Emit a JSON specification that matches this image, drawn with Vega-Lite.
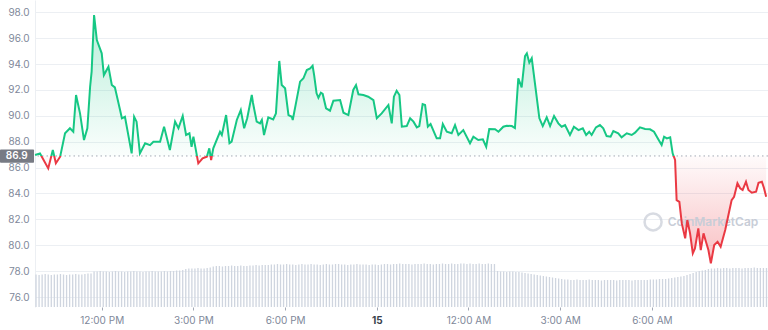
{
  "$schema": "https://vega.github.io/schema/vega-lite/v6.json",
  "autosize": "none",
  "width": 733,
  "height": 307,
  "padding": {"left": 35, "top": 0, "right": 0, "bottom": 23},
  "background": "#ffffff",
  "config": {
    "view": {"stroke": null},
    "font": "Inter",
    "axis": {"labelOverlap": false, "labelBound": false},
    "axisX": {"labelFlush": false, "grid": false, "domain": false, "title": null},
    "axisY": {"title": null}
  },
  "datasets": {
    "price": [
      {"t":9.82,"p":86.97},{"t":9.98,"p":87.10},{"t":10.04,"p":86.84},{"t":10.25,"p":85.94},{"t":10.40,"p":87.36},
      {"t":10.50,"p":86.33},{"t":10.64,"p":86.84},{"t":10.80,"p":88.65},{"t":10.96,"p":89.04},{"t":11.07,"p":88.77},
      {"t":11.16,"p":91.61},{"t":11.29,"p":90.19},{"t":11.42,"p":88.13},{"t":11.53,"p":89.04},{"t":11.62,"p":92.25},
      {"t":11.67,"p":93.41},{"t":11.75,"p":97.79},{"t":11.84,"p":95.86},{"t":12.00,"p":94.83},{"t":12.07,"p":93.15},
      {"t":12.22,"p":93.80},{"t":12.33,"p":92.38},{"t":12.43,"p":92.20},{"t":12.60,"p":90.45},{"t":12.66,"p":89.81},
      {"t":12.76,"p":89.93},{"t":12.98,"p":87.10},{"t":13.06,"p":89.93},{"t":13.14,"p":89.55},{"t":13.25,"p":87.10},
      {"t":13.42,"p":87.88},{"t":13.58,"p":87.74},{"t":13.69,"p":88.00},{"t":13.91,"p":88.00},{"t":14.04,"p":89.16},
      {"t":14.23,"p":87.36},{"t":14.40,"p":89.55},{"t":14.51,"p":89.04},{"t":14.65,"p":89.99},{"t":14.76,"p":88.52},
      {"t":14.87,"p":88.65},{"t":14.94,"p":87.61},{"t":15.00,"p":88.39},{"t":15.16,"p":86.33},{"t":15.30,"p":86.72},
      {"t":15.44,"p":86.84},{"t":15.52,"p":87.49},{"t":15.58,"p":86.59},{"t":15.65,"p":87.49},{"t":15.87,"p":88.77},
      {"t":15.93,"p":88.52},{"t":16.07,"p":90.06},{"t":16.18,"p":87.88},{"t":16.25,"p":88.00},{"t":16.42,"p":89.68},
      {"t":16.55,"p":90.45},{"t":16.66,"p":89.04},{"t":16.76,"p":89.81},{"t":16.91,"p":91.61},{"t":16.95,"p":90.99},
      {"t":17.07,"p":89.55},{"t":17.18,"p":89.42},{"t":17.24,"p":89.68},{"t":17.31,"p":88.52},{"t":17.45,"p":89.89},
      {"t":17.61,"p":89.73},{"t":17.70,"p":90.19},{"t":17.81,"p":94.24},{"t":17.89,"p":92.38},{"t":18.00,"p":92.13},
      {"t":18.11,"p":90.06},{"t":18.22,"p":89.93},{"t":18.25,"p":89.68},{"t":18.49,"p":92.64},{"t":18.60,"p":92.90},
      {"t":18.71,"p":93.54},{"t":18.82,"p":93.67},{"t":18.90,"p":93.87},{"t":18.95,"p":93.15},{"t":19.03,"p":91.74},
      {"t":19.09,"p":91.40},{"t":19.17,"p":91.79},{"t":19.23,"p":91.69},{"t":19.34,"p":90.58},{"t":19.47,"p":90.40},
      {"t":19.58,"p":91.17},{"t":19.80,"p":91.22},{"t":19.91,"p":90.24},{"t":20.07,"p":90.06},{"t":20.23,"p":92.00},
      {"t":20.32,"p":92.38},{"t":20.40,"p":91.66},{"t":20.56,"p":91.61},{"t":20.72,"p":91.48},{"t":20.89,"p":91.22},
      {"t":21.00,"p":89.81},{"t":21.16,"p":90.19},{"t":21.38,"p":90.84},{"t":21.49,"p":89.42},{"t":21.56,"p":91.48},
      {"t":21.65,"p":91.94},{"t":21.74,"p":91.61},{"t":21.82,"p":89.16},{"t":21.98,"p":89.21},{"t":22.09,"p":89.81},
      {"t":22.20,"p":89.55},{"t":22.31,"p":89.11},{"t":22.39,"p":89.21},{"t":22.50,"p":90.91},{"t":22.58,"p":90.84},
      {"t":22.67,"p":89.16},{"t":22.76,"p":89.37},{"t":22.96,"p":88.26},{"t":23.07,"p":88.26},{"t":23.16,"p":89.37},
      {"t":23.29,"p":88.77},{"t":23.45,"p":88.65},{"t":23.56,"p":89.29},{"t":23.67,"p":88.52},{"t":23.83,"p":88.90},
      {"t":24.05,"p":87.88},{"t":24.16,"p":88.39},{"t":24.32,"p":88.13},{"t":24.47,"p":88.19},{"t":24.58,"p":87.61},
      {"t":24.68,"p":88.98},{"t":24.87,"p":88.96},{"t":24.98,"p":88.77},{"t":25.14,"p":89.16},{"t":25.25,"p":89.24},
      {"t":25.42,"p":89.21},{"t":25.52,"p":89.06},{"t":25.63,"p":92.90},{"t":25.74,"p":92.20},{"t":25.85,"p":94.62},
      {"t":25.91,"p":94.83},{"t":25.99,"p":94.11},{"t":26.07,"p":94.45},{"t":26.20,"p":92.05},{"t":26.32,"p":89.81},
      {"t":26.43,"p":89.21},{"t":26.56,"p":89.89},{"t":26.67,"p":89.21},{"t":26.80,"p":89.99},{"t":26.94,"p":89.42},
      {"t":27.05,"p":89.16},{"t":27.16,"p":89.29},{"t":27.32,"p":88.52},{"t":27.45,"p":89.16},{"t":27.60,"p":88.90},
      {"t":27.74,"p":89.04},{"t":27.85,"p":88.52},{"t":27.95,"p":88.77},{"t":28.03,"p":88.52},{"t":28.17,"p":89.11},
      {"t":28.30,"p":89.29},{"t":28.41,"p":89.04},{"t":28.52,"p":88.44},{"t":28.65,"p":88.39},{"t":28.74,"p":88.83},
      {"t":28.90,"p":88.65},{"t":29.01,"p":88.34},{"t":29.18,"p":88.65},{"t":29.34,"p":88.52},{"t":29.45,"p":88.70},
      {"t":29.61,"p":89.11},{"t":29.78,"p":88.98},{"t":29.94,"p":88.96},{"t":30.07,"p":88.77},{"t":30.21,"p":88.19},
      {"t":30.32,"p":87.74},{"t":30.40,"p":88.39},{"t":30.49,"p":88.26},{"t":30.60,"p":88.34},{"t":30.68,"p":87.10},
      {"t":30.76,"p":86.59},{"t":30.81,"p":83.49},{"t":30.90,"p":83.36},{"t":30.98,"p":81.69},{"t":31.09,"p":80.53},
      {"t":31.16,"p":81.95},{"t":31.25,"p":80.92},{"t":31.34,"p":79.38},{"t":31.41,"p":79.76},{"t":31.52,"p":81.31},
      {"t":31.60,"p":79.63},{"t":31.69,"p":80.92},{"t":31.77,"p":80.27},{"t":31.85,"p":79.63},{"t":31.93,"p":78.60},
      {"t":32.04,"p":80.02},{"t":32.15,"p":80.27},{"t":32.25,"p":79.89},{"t":32.40,"p":81.18},{"t":32.54,"p":82.72},
      {"t":32.61,"p":83.49},{"t":32.69,"p":83.75},{"t":32.80,"p":84.79},{"t":32.89,"p":84.40},{"t":32.97,"p":84.27},
      {"t":33.08,"p":84.91},{"t":33.16,"p":84.27},{"t":33.27,"p":84.06},{"t":33.41,"p":84.14},{"t":33.49,"p":84.83},
      {"t":33.60,"p":84.91},{"t":33.67,"p":84.40},{"t":33.74,"p":83.75}
    ],
    "volume": [
      {"t":9.85,"v":34.5},{"t":9.95,"v":34},{"t":10.05,"v":34.5},{"t":10.15,"v":35},{"t":10.25,"v":34.5},{"t":10.35,"v":34},
      {"t":10.45,"v":34.5},{"t":10.55,"v":34.5},{"t":10.65,"v":35},{"t":10.75,"v":34.5},{"t":10.85,"v":34},{"t":10.95,"v":34.5},
      {"t":11.05,"v":34.5},{"t":11.15,"v":35},{"t":11.25,"v":34.5},{"t":11.35,"v":34.5},{"t":11.45,"v":35},{"t":11.55,"v":35.5},
      {"t":11.65,"v":35.5},
      {"t":11.75,"v":37.5},{"t":11.85,"v":37.5},{"t":11.95,"v":38},{"t":12.05,"v":37.5},{"t":12.15,"v":37.5},{"t":12.25,"v":37},
      {"t":12.35,"v":37.5},{"t":12.45,"v":38},{"t":12.55,"v":37.5},{"t":12.65,"v":37.5},{"t":12.75,"v":37},{"t":12.85,"v":37.5},
      {"t":12.95,"v":37.5},{"t":13.05,"v":38},{"t":13.15,"v":37.5},{"t":13.25,"v":37.5},{"t":13.35,"v":37},{"t":13.45,"v":37.5},
      {"t":13.55,"v":37.5},{"t":13.65,"v":38},{"t":13.75,"v":37.5},{"t":13.85,"v":37.5},{"t":13.95,"v":37.5},{"t":14.05,"v":38},
      {"t":14.15,"v":37.5},{"t":14.25,"v":38},{"t":14.35,"v":38},{"t":14.45,"v":38.5},{"t":14.55,"v":38.5},{"t":14.65,"v":39},
      {"t":14.75,"v":40},{"t":14.85,"v":40.5},{"t":14.95,"v":40.5},{"t":15.05,"v":40.5},{"t":15.15,"v":41},{"t":15.25,"v":40.5},
      {"t":15.35,"v":40.5},{"t":15.45,"v":41},{"t":15.55,"v":41.5},
      {"t":15.65,"v":42.5},{"t":15.75,"v":43},{"t":15.85,"v":43},{"t":15.95,"v":42.5},{"t":16.05,"v":43},{"t":16.15,"v":43},
      {"t":16.25,"v":43.5},{"t":16.35,"v":43},{"t":16.45,"v":43},{"t":16.55,"v":43.5},{"t":16.65,"v":43},{"t":16.75,"v":43},
      {"t":16.85,"v":43.5},{"t":16.95,"v":43.5},{"t":17.05,"v":44},{"t":17.15,"v":43.5},{"t":17.25,"v":44},{"t":17.35,"v":44},
      {"t":17.45,"v":44},{"t":17.55,"v":44.5},
      {"t":17.65,"v":44.5},{"t":17.75,"v":45},{"t":17.85,"v":44.5},{"t":17.95,"v":44.5},{"t":18.05,"v":45},{"t":18.15,"v":44.5},
      {"t":18.25,"v":44.5},{"t":18.35,"v":44},{"t":18.45,"v":44.5},{"t":18.55,"v":45},{"t":18.65,"v":44.5},{"t":18.75,"v":44.5},
      {"t":18.85,"v":45},{"t":18.95,"v":44.5},{"t":19.05,"v":44.5},{"t":19.15,"v":44},{"t":19.25,"v":44.5},{"t":19.35,"v":45},
      {"t":19.45,"v":44.5},{"t":19.55,"v":44.5},{"t":19.65,"v":45},{"t":19.75,"v":45},{"t":19.85,"v":44.5},{"t":19.95,"v":44.5},
      {"t":20.05,"v":44},{"t":20.15,"v":44.5},{"t":20.25,"v":44.5},{"t":20.35,"v":45},{"t":20.45,"v":44.5},{"t":20.55,"v":44.5},
      {"t":20.65,"v":44.5},{"t":20.75,"v":44},{"t":20.85,"v":44.5},{"t":20.95,"v":44.5},{"t":21.05,"v":44},{"t":21.15,"v":44.5},
      {"t":21.25,"v":45},{"t":21.35,"v":45},{"t":21.45,"v":44.5},{"t":21.55,"v":45},{"t":21.65,"v":45},{"t":21.75,"v":45.5},
      {"t":21.85,"v":45},{"t":21.95,"v":45},{"t":22.05,"v":45},{"t":22.15,"v":44.5},{"t":22.25,"v":45},{"t":22.35,"v":45},
      {"t":22.45,"v":45},{"t":22.55,"v":45.5},{"t":22.65,"v":45},{"t":22.75,"v":45},{"t":22.85,"v":44.5},{"t":22.95,"v":45},
      {"t":23.05,"v":45},{"t":23.15,"v":45.5},{"t":23.25,"v":45},{"t":23.35,"v":45},{"t":23.45,"v":45.5},{"t":23.55,"v":45},
      {"t":23.65,"v":45},{"t":23.75,"v":45.5},{"t":23.85,"v":45.5},{"t":23.95,"v":45},{"t":24.05,"v":45.5},{"t":24.15,"v":45},
      {"t":24.25,"v":45},{"t":24.35,"v":45.5},{"t":24.45,"v":45},{"t":24.55,"v":45},{"t":24.65,"v":45.5},{"t":24.75,"v":45},
      {"t":24.85,"v":45},
      {"t":24.95,"v":38},{"t":25.05,"v":37.5},{"t":25.15,"v":37.5},{"t":25.25,"v":37},{"t":25.35,"v":37.5},{"t":25.45,"v":37.5},
      {"t":25.55,"v":37},{"t":25.65,"v":37},{"t":25.75,"v":36.5},{"t":25.85,"v":36},{"t":25.95,"v":35.5},
      {"t":26.05,"v":35},{"t":26.15,"v":34.5},{"t":26.25,"v":34},{"t":26.35,"v":33.5},{"t":26.45,"v":33},{"t":26.55,"v":32.5},
      {"t":26.65,"v":32},{"t":26.75,"v":31.5},{"t":26.85,"v":31},{"t":26.95,"v":30.5},{"t":27.05,"v":30},
      {"t":27.15,"v":29.5},{"t":27.25,"v":29.5},{"t":27.35,"v":29},{"t":27.45,"v":29},{"t":27.55,"v":29.5},{"t":27.65,"v":29},
      {"t":27.75,"v":29},{"t":27.85,"v":29},{"t":27.95,"v":29.5},{"t":28.05,"v":29},{"t":28.15,"v":29},{"t":28.25,"v":29},
      {"t":28.35,"v":28.5},{"t":28.45,"v":29},{"t":28.55,"v":29},{"t":28.65,"v":29},{"t":28.75,"v":29},{"t":28.85,"v":28.5},
      {"t":28.95,"v":29},{"t":29.05,"v":29},{"t":29.15,"v":29},{"t":29.25,"v":29},{"t":29.35,"v":28.5},{"t":29.45,"v":29},
      {"t":29.55,"v":29},{"t":29.65,"v":29},{"t":29.75,"v":29},{"t":29.85,"v":29},{"t":29.95,"v":29.5},{"t":30.05,"v":29.5},
      {"t":30.15,"v":29.5},{"t":30.25,"v":30},{"t":30.35,"v":30},{"t":30.45,"v":30},{"t":30.55,"v":30.5},
      {"t":30.65,"v":31},{"t":30.75,"v":31.5},{"t":30.85,"v":32},{"t":30.95,"v":32.5},{"t":31.05,"v":33},{"t":31.15,"v":34},
      {"t":31.25,"v":35},{"t":31.35,"v":36},{"t":31.45,"v":37},{"t":31.55,"v":38},{"t":31.65,"v":38.5},{"t":31.75,"v":39},
      {"t":31.85,"v":40},{"t":31.95,"v":40.5},{"t":32.05,"v":40.5},{"t":32.15,"v":41},{"t":32.25,"v":40.5},{"t":32.35,"v":41},
      {"t":32.45,"v":41},{"t":32.55,"v":40.5},{"t":32.65,"v":41},{"t":32.75,"v":41},{"t":32.85,"v":41},{"t":32.95,"v":40.5},
      {"t":33.05,"v":41},{"t":33.15,"v":41},{"t":33.25,"v":41},{"t":33.35,"v":41.5},{"t":33.45,"v":41},{"t":33.55,"v":41},
      {"t":33.65,"v":41},{"t":33.75,"v":41}
    ],
    "marks": [
      {"label":"CoinMarketCap","lt":32.0,"lp":81.8,"ct":30.04,"cp":81.8}
    ],
    "ref": [
      {"label":"86.9","p":86.9,"top":87.4,"bottom":86.38,"x0":8.672,"x1":9.785,"xm":9.22}
    ]
  },
  "layer": [
    {
      "layer": [
        {
          "data": {"name": "price"},
          "mark": {
            "type": "area",
            "interpolate": "linear",
            "fill": {
              "gradient": "linear", "x1": 0, "y1": 0, "x2": 0, "y2": 1,
              "stops": [
                {"offset": 0, "color": "rgba(22,199,132,0.30)"},
                {"offset": 0.5675, "color": "rgba(22,199,132,0.02)"},
                {"offset": 0.5675, "color": "rgba(234,57,67,0.02)"},
                {"offset": 1, "color": "rgba(234,57,67,0.32)"}
              ]
            }
          },
          "encoding": {
            "x": {"field": "t", "type": "quantitative", "scale": {"domain": [9.817, 33.8], "nice": false, "zero": false},
              "axis": {
                "values": [12, 15, 18, 21, 24, 27, 30],
                "labelExpr": "datum.value==12?'12:00 PM':datum.value==15?'3:00 PM':datum.value==18?'6:00 PM':datum.value==21?'15':datum.value==24?'12:00 AM':datum.value==27?'3:00 AM':'6:00 AM'",
                "title": null, "grid": false, "domain": false,
                "ticks": true, "tickSize": 3, "tickColor": "#a3a9b5",
                "labelPadding": 5, "labelFontSize": 10, "labelFont": "Inter",
                "labelColor": {"condition": {"test": "datum.value==21", "value": "#3a3f4b"}, "value": "#80889a"},
                "labelFontWeight": {"condition": {"test": "datum.value==21", "value": 700}, "value": 400}
              }
            },
            "y": {"field": "p", "type": "quantitative", "scale": {"domain": [75.23, 98.95], "nice": false, "zero": false},
              "axis": {
                "tickCount": 12,
                "format": ".1f", "title": null, "labelOverlap": false,
                "grid": true, "gridColor": "#eceff3", "gridWidth": 1,
                "ticks": false, "domain": true, "domainColor": "#eceff3",
                "labelPadding": 6, "labelFontSize": 10, "labelFont": "Inter", "labelColor": "#80889a"
              }
            },
            "y2": {"datum": 86.9}
          }
        },
        {
          "data": {"name": "marks"},
          "mark": {"type": "text", "font": "Inter", "fontSize": 12, "fontWeight": 600, "color": "#c8cdd7", "align": "center", "baseline": "middle"},
          "encoding": {
            "x": {"field": "lt", "type": "quantitative"},
            "y": {"field": "lp", "type": "quantitative"},
            "text": {"field": "label"}
          }
        },
        {
          "data": {"name": "marks"},
          "mark": {"type": "point", "shape": "circle", "filled": false, "size": 290, "strokeWidth": 2.5, "color": "#c8cdd7"},
          "encoding": {
            "x": {"field": "ct", "type": "quantitative"},
            "y": {"field": "cp", "type": "quantitative"}
          }
        },
        {
          "data": {"name": "ref"},
          "mark": {"type": "rule", "color": "#a3a9b5", "strokeWidth": 1, "strokeDash": [1.5, 3]},
          "encoding": {"y": {"field": "p", "type": "quantitative"}}
        },
        {
          "data": {"name": "price"},
          "mark": {
            "type": "line",
            "interpolate": "linear",
            "strokeWidth": 2,
            "stroke": {
              "gradient": "linear", "x1": 0, "y1": 0, "x2": 0, "y2": 1,
              "stops": [
                {"offset": 0, "color": "#16c784"},
                {"offset": 0.5675, "color": "#16c784"},
                {"offset": 0.5675, "color": "#ea3943"},
                {"offset": 1, "color": "#ea3943"}
              ]
            }
          },
          "encoding": {
            "x": {"field": "t", "type": "quantitative"},
            "y": {"field": "p", "type": "quantitative"}
          }
        },
        {
          "data": {"name": "ref"},
          "mark": {"type": "rect", "color": "#777b84", "cornerRadius": 1},
          "encoding": {
            "x": {"field": "x0", "type": "quantitative"},
            "x2": {"field": "x1"},
            "y": {"field": "top", "type": "quantitative"},
            "y2": {"field": "bottom"}
          }
        },
        {
          "data": {"name": "ref"},
          "mark": {"type": "text", "color": "#ffffff", "font": "Inter", "fontSize": 10, "fontWeight": 600, "align": "center", "baseline": "middle"},
          "encoding": {
            "x": {"field": "xm", "type": "quantitative"},
            "y": {"field": "p", "type": "quantitative"},
            "text": {"field": "label"}
          }
        }
      ]
    },
    {
      "data": {"name": "volume"},
      "mark": {"type": "rule", "color": "#cfd5df", "strokeWidth": 1.3},
      "encoding": {
        "x": {"field": "t", "type": "quantitative"},
        "y": {"field": "v", "type": "quantitative", "scale": {"domain": [2, 309], "nice": false, "zero": false}, "axis": null},
        "y2": {"datum": 2}
      }
    }
  ],
  "resolve": {"scale": {"y": "independent"}}
}
